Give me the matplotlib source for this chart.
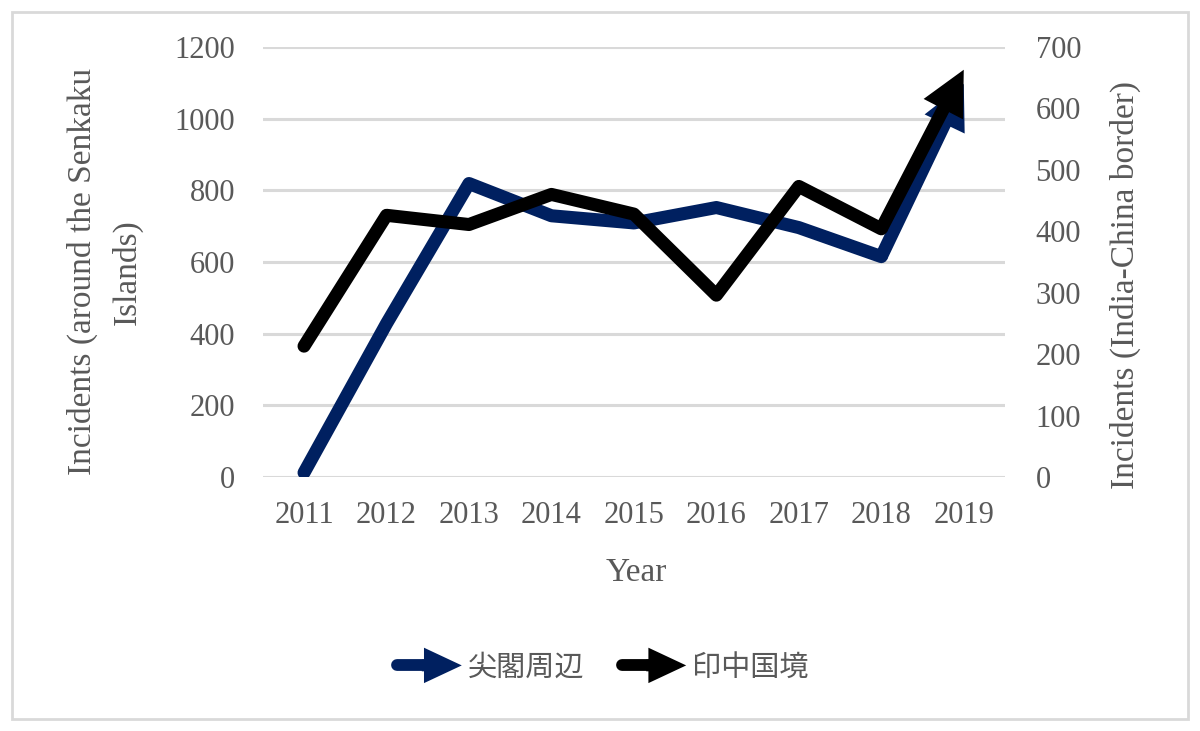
import matplotlib
matplotlib.use('Agg')
from matplotlib import pyplot as plt
from matplotlib.patches import FancyArrowPatch, Rectangle
from matplotlib.legend_handler import HandlerBase
from matplotlib.lines import Line2D

years = ['2011', '2012', '2013', '2014', '2015', '2016', '2017', '2018', '2019']
senkaku = [12, 428, 819, 729, 709, 752, 696, 615, 1097]
india_china = [213, 426, 411, 460, 428, 296, 473, 404, 663]
left_ticks = [0, 200, 400, 600, 800, 1000, 1200]
right_ticks = [0, 100, 200, 300, 400, 500, 600, 700]

navy = '#002060'
text_grey = '#595959'
lw = 9.4

plt.rcParams['font.family'] = ['Liberation Serif', 'Noto Sans CJK JP']
plt.rcParams['font.size'] = 22


class ArrowHandler(HandlerBase):
    # legend key: thick line ending in an arrow head
    def create_artists(self, legend, orig_handle, xdescent, ydescent,
                       width, height, fontsize, trans):
        c = orig_handle.get_color()
        y = height / 2 - ydescent
        x0 = -xdescent + 4
        x1 = -xdescent + width
        tail = Line2D([x0, x0 + width * 0.4], [y, y], color=c, lw=8.5,
                      solid_capstyle='round', transform=trans)
        head = FancyArrowPatch((x0 + width * 0.3, y), (x1, y),
                               arrowstyle='simple,head_length=3.2,head_width=3.0,tail_width=1',
                               mutation_scale=8.5, color=c, lw=0, transform=trans)
        return [tail, head]


fig = plt.figure(figsize=(12, 7.31), dpi=100)
ax1 = fig.add_axes([0.219, 0.3475, 0.6185, 0.5882])
ax2 = ax1.twinx()

x = list(range(len(years)))

l1, = ax1.plot(x[:-1], senkaku[:-1], color=navy, lw=lw,
               solid_capstyle='round', solid_joinstyle='round', zorder=3)
ax1.annotate('', xy=(x[-1], senkaku[-1]), xytext=(x[-2], senkaku[-2]),
             arrowprops=dict(arrowstyle='simple,head_length=3.4,head_width=3.4,tail_width=1',
                             mutation_scale=lw, color=navy, lw=0,
                             shrinkA=0, shrinkB=0), zorder=3)

l2, = ax2.plot(x[:-1], india_china[:-1], color='black', lw=lw,
               solid_capstyle='round', solid_joinstyle='round', zorder=3)
ax2.annotate('', xy=(x[-1], india_china[-1]), xytext=(x[-2], india_china[-2]),
             arrowprops=dict(arrowstyle='simple,head_length=3.4,head_width=3.4,tail_width=1',
                             mutation_scale=lw, color='black', lw=0,
                             shrinkA=0, shrinkB=0), zorder=3)

ax1.set_xlim(-0.5, len(years) - 0.5)
ax1.set_xticks(x)
ax1.set_xticklabels(years)
ax1.set_ylim(0, 1200)
ax1.set_yticks(left_ticks)
ax2.set_ylim(0, 700)
ax2.set_yticks(right_ticks)

ax1.grid(axis='y', color='#d9d9d9', lw=2.2)
ax1.set_axisbelow(True)
for a in (ax1, ax2):
    for s in a.spines.values():
        s.set_visible(False)
ax1.tick_params(axis='y', length=0, pad=20, colors=text_grey)
ax1.tick_params(axis='x', length=0, pad=17, colors=text_grey)
ax2.tick_params(axis='y', length=0, pad=22, colors=text_grey)

ax1.set_ylabel('Incidents (around the Senkaku\nIslands)', color=text_grey,
               ha='center', va='center', linespacing=1.6, fontsize=24)
ax1.yaxis.set_label_coords(-0.213, 0.477)
ax2.set_ylabel('Incidents (India-China border)', color=text_grey,
               ha='center', va='center', rotation=90, fontsize=24)
ax2.yaxis.set_label_coords(1.162, 0.447)
ax1.set_xlabel('Year', color=text_grey, ha='center', va='center', fontsize=24)
ax1.xaxis.set_label_coords(0.503, -0.223)

fig.legend([l1, l2], ['尖閣周辺', '印中国境'], loc='center', bbox_to_anchor=(0.5, 0.086),
           ncol=2, frameon=False, handlelength=2.5, handletextpad=0.1, columnspacing=1.1,
           labelcolor=text_grey, fontsize=21, handler_map={Line2D: ArrowHandler()})

fig.patches.append(Rectangle((12 / 1200, 12 / 731), 1176 / 1200, 707 / 731,
                             transform=fig.transFigure, fill=False,
                             edgecolor='#d9d9d9', lw=2))

plt.savefig('out.png')
plt.close(fig)
